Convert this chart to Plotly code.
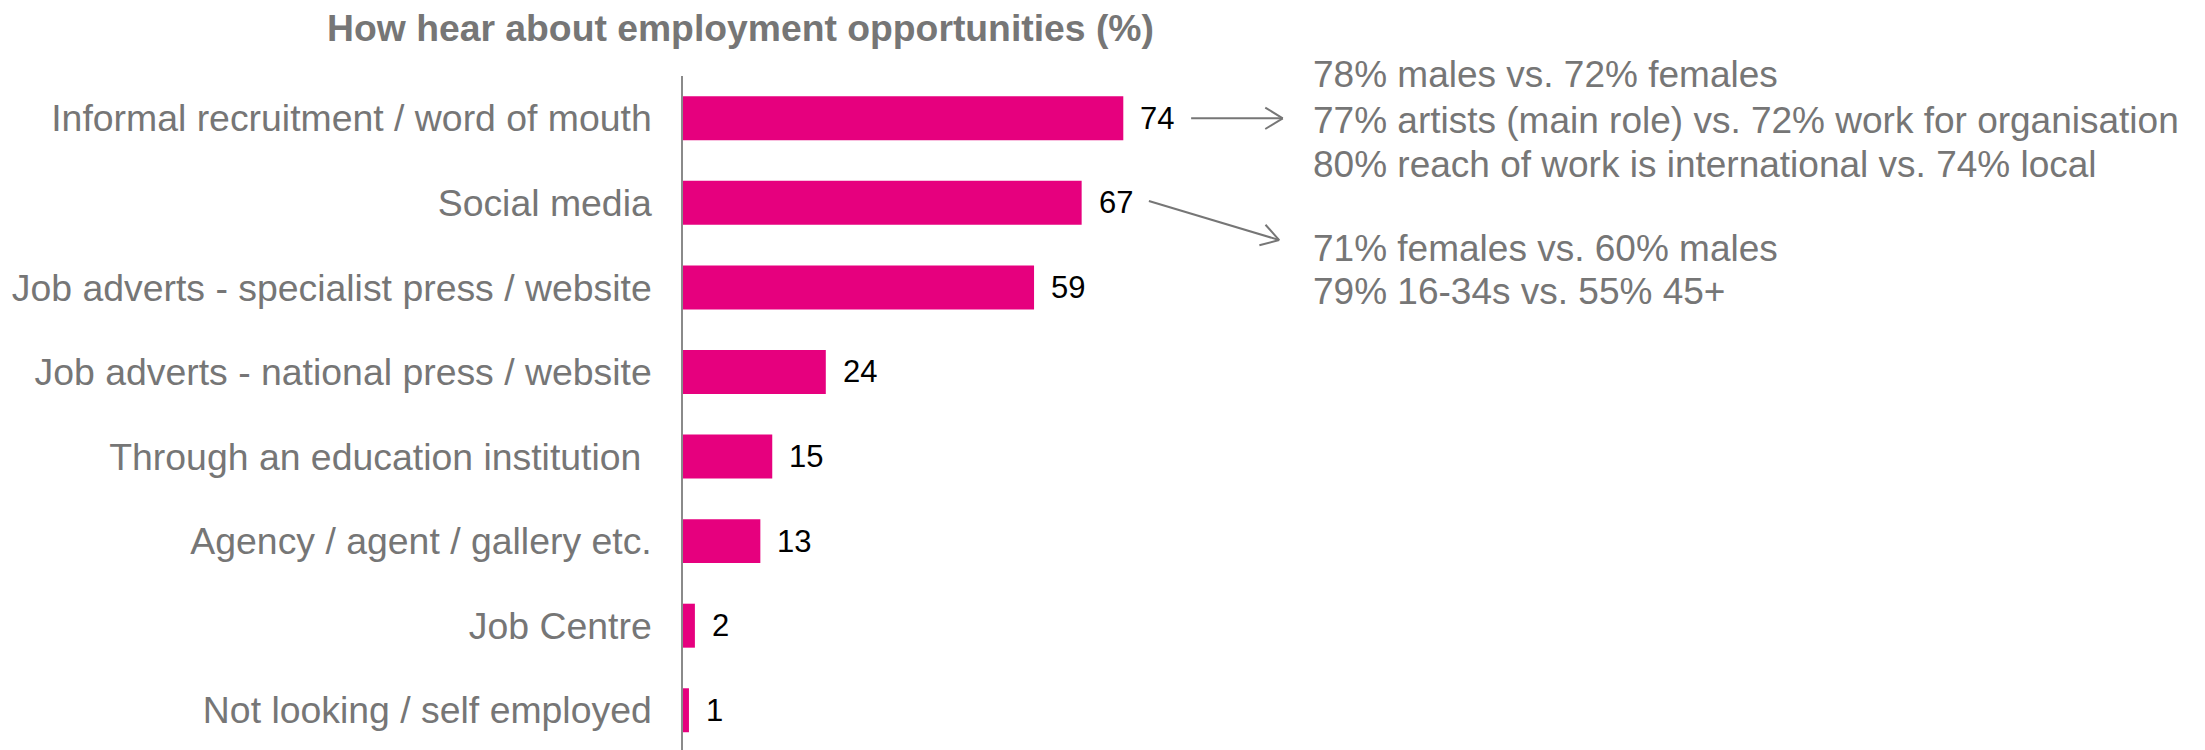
import numpy as np
import plotly.graph_objects as go

# Survey results: how respondents hear about employment opportunities (%)
categories = [
    "Informal recruitment / word of mouth",
    "Social media",
    "Job adverts - specialist press / website",
    "Job adverts - national press / website",
    "Through an education institution\u00a0",
    "Agency / agent / gallery etc.",
    "Job Centre",
    "Not looking / self employed",
]
values = [74, 67, 59, 24, 15, 13, 2, 1]

title_text = "How hear about employment opportunities (%)"
callout_word_of_mouth = [
    "78% males vs. 72% females",
    "77% artists (main role) vs. 72% work for organisation",
    "80% reach of work is international vs. 74% local",
]
callout_social_media = [
    "71% females vs. 60% males",
    "79% 16-34s vs. 55% 45+",
]

# Layout geometry
W, H = 2205, 750
LEFT, TOP = 683, 76
PX_PER_UNIT = 5.95
X_MAX = (W - LEFT) / PX_PER_UNIT
Y_RANGE = [7.47, -0.5]
PLOT_H = H - TOP
PX_PER_ROW = PLOT_H / (Y_RANGE[0] - Y_RANGE[1])

BAR_COLOR = "#E6007E"
GREY = "#767676"
FONT = "Liberation Sans, Arial, sans-serif"

positions = list(range(len(categories)))

fig = go.Figure(
    go.Bar(
        x=values,
        y=positions,
        orientation="h",
        width=0.52,
        marker=dict(color=BAR_COLOR, line=dict(width=0)),
        hoverinfo="skip",
    )
)

annotations = []
# value labels next to each bar
for pos, v in zip(positions, values):
    annotations.append(dict(
        x=v, y=pos, xref="x", yref="y", text=str(v), showarrow=False,
        xanchor="left", yanchor="middle", xshift=15,
        font=dict(family=FONT, size=31, color="#000000"),
    ))

# callout text blocks to the right (vertical positions in figure pixels)
callout_x = (1311 - LEFT) / PX_PER_UNIT
line_px = [74, 120, 165, 248.5, 291.5]
for text, ypx in zip(callout_word_of_mouth + callout_social_media, line_px):
    annotations.append(dict(
        x=callout_x, y=(H - ypx) / PLOT_H, xref="x", yref="paper",
        text=text, showarrow=False, xanchor="left", yanchor="middle",
        font=dict(family=FONT, size=37, color=GREY),
    ))

# callout arrows: shaft plus an open chevron head
shapes = []
arrows = [
    ((85.4, 0.0), (100.8, 0.0)),
    ((78.3, 0.978), (100.2, 1.44)),
]
ARM_BACK, ARM_HALF = 17.5, 10.7
for (tx, ty), (hx, hy) in arrows:
    line_style = dict(color=GREY, width=2)
    shapes.append(dict(type="line", xref="x", yref="y", x0=tx, y0=ty, x1=hx, y1=hy, line=line_style))
    d = np.array([(hx - tx) * PX_PER_UNIT, (hy - ty) * PX_PER_ROW])
    u = d / np.linalg.norm(d)
    n = np.array([-u[1], u[0]])
    for s in (1, -1):
        p = -ARM_BACK * u + s * ARM_HALF * n
        shapes.append(dict(
            type="line", xref="x", yref="y",
            x0=hx, y0=hy,
            x1=hx + p[0] / PX_PER_UNIT, y1=hy + p[1] / PX_PER_ROW,
            line=line_style,
        ))

fig.update_layout(
    width=W,
    height=H,
    margin=dict(l=LEFT, r=0, t=TOP, b=0, pad=0),
    paper_bgcolor="white",
    plot_bgcolor="white",
    showlegend=False,
    title=dict(
        text="<b>" + title_text + "</b>",
        x=740.5 / W, xanchor="center", xref="container",
        y=1 - 27.5 / H, yanchor="middle", yref="container",
        font=dict(family=FONT, size=37.3, color=GREY),
    ),
    xaxis=dict(
        range=[0, X_MAX], showgrid=False, zeroline=False,
        showticklabels=False, showline=False, fixedrange=True,
    ),
    yaxis=dict(
        range=Y_RANGE, tickvals=positions, ticktext=categories,
        showgrid=False, zeroline=False, showline=True,
        linecolor="#8a8a8a", linewidth=1.5, ticks="",
        ticklabelstandoff=22, automargin=False,
        tickfont=dict(family=FONT, size=37.4, color=GREY),
    ),
    annotations=annotations,
    shapes=shapes,
)

fig.write_html("out.html")
